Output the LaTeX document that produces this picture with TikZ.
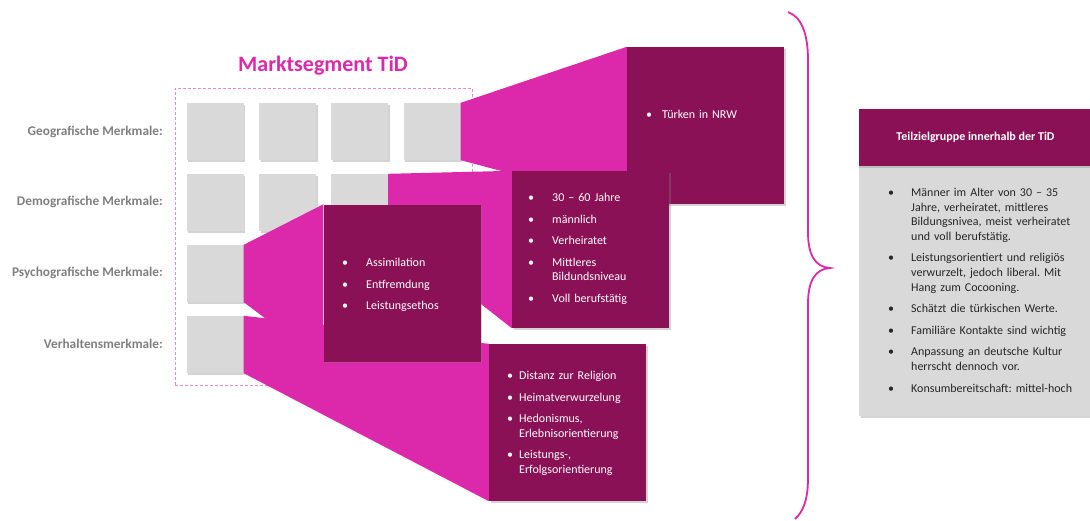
\documentclass[tikz,border=0pt]{standalone}
\usepackage{fontspec}
\setmainfont{Carlito}
\usetikzlibrary{shadows}
\frenchspacing

\definecolor{tidpink}{HTML}{DC28AA}
\definecolor{tidplum}{HTML}{8B1157}
\definecolor{cellgray}{HTML}{D9D9D9}
\definecolor{labelgray}{HTML}{7F7F7F}

% bullet list items with hanging indent
\newlength\bulind
\newcommand\bitem[1]{\hangindent=\bulind\hangafter=1\noindent\makebox[\bulind][l]{\strut\textbullet}#1\par}

\pgfdeclarelayer{cells}
\pgfdeclarelayer{funnels}
\pgfsetlayers{cells,funnels,main}

\begin{document}
\begin{tikzpicture}[x=1pt,y=-1pt,
  cell/.style={fill=cellgray,minimum size=57pt,inner sep=0pt,
    drop shadow={shadow xshift=1.5pt,shadow yshift=-1.5pt,opacity=.35}},
  panel/.style={fill=tidplum,minimum width=157pt,minimum height=157pt,inner sep=0pt,
    drop shadow={shadow xshift=1.5pt,shadow yshift=-1.5pt,opacity=.35}},
  funnel/.style={fill=tidpink},
  rowlabel/.style={anchor=east,inner sep=0pt,text=labelgray,font=\fontsize{13.3}{15}\selectfont\bfseries},
  list/.style={anchor=north west,inner sep=0pt,align=left,text=white,
    font=\fontsize{12}{14.6}\selectfont},
  frame/.style={draw=tidpink!55,densely dashed,line width=.6pt,minimum width=297pt,minimum height=297pt}]
  \useasboundingbox (0,0) rectangle (1090,520);

  \node[font=\fontsize{22}{26}\selectfont\bfseries,text=tidpink] at (323,66) (title) {Marktsegment TiD};

  \node[rowlabel] at (163,132) (lgeo) {Geografische Merkmale:};
  \node[rowlabel] at (163,202) (ldemo) {Demografische Merkmale:};
  \node[rowlabel] at (163,273) (lpsy) {Psychografische Merkmale:};
  \node[rowlabel] at (163,344) (lverh) {Verhaltensmerkmale:};

  \begin{pgfonlayer}{cells}
  \node[frame] at (323.5,236.5) (segment) {};

  \node[cell] at (215,131.5) (g1) {};
  \node[cell] at (287.5,131.5) (g2) {};
  \node[cell] at (359.5,131.5) (g3) {};
  \node[cell] at (432,131.5) (g4) {};

  \node[cell] at (215,202.5) (d1) {};
  \node[cell] at (287.5,202.5) (d2) {};
  \node[cell] at (359.5,202.5) (d3) {};

  \node[cell] at (215,273.5) (p1) {};
  \node[cell] at (215,344.5) (v1) {};
  \end{pgfonlayer}

  % callout panels
  \node[panel] at (705.5,125.5) (geo) {};
  \node[panel] at (590.5,249.5) (demo) {};
  \node[panel] at (567.5,422.5) (verh) {};
  \node[panel] at (402,283) (psy) {};

  \begin{pgfonlayer}{funnels}
  \fill[funnel] (g4.north east) -- (geo.north west) -- (geo.south west) -- (g4.south east) -- cycle;
  \fill[funnel] (d3.north east) -- (demo.north west) -- (demo.south west) -- (d3.south east) -- cycle;
  \fill[funnel] (v1.north east) -- (verh.north west) -- (verh.south west) -- (v1.south east) -- cycle;
  \fill[funnel] (p1.north east) -- (psy.north west) -- (psy.south west) -- (p1.south east) -- cycle;
  \end{pgfonlayer}

  \node[list,text width=140pt] at (646,108) (geotxt) {\setlength\bulind{16pt}%
    \bitem{Türken in NRW}};
  \node[list,text width=140pt] at (528,191) (demotxt) {\setlength\bulind{24pt}\setlength\parskip{7pt}%
    \bitem{30 – 60 Jahre}
    \bitem{männlich}
    \bitem{Verheiratet}
    \bitem{Mittleres\newline Bildundsniveau}
    \bitem{Voll berufstätig}};
  \node[list,text width=140pt] at (342,256) (psytxt) {\setlength\bulind{24pt}\setlength\parskip{7pt}%
    \bitem{Assimilation}
    \bitem{Entfremdung}
    \bitem{Leistungsethos}};
  \node[list,text width=140pt] at (507,369) (verhtxt) {\setlength\bulind{12pt}\setlength\parskip{7pt}%
    \bitem{Distanz zur Religion}
    \bitem{Heimatverwurzelung}
    \bitem{Hedonismus,\newline Erlebnisorientierung}
    \bitem{Leistungs-,\newline Erfolgsorientierung}};

  % brace
  \draw[tidpink,line width=1.8pt]
    (788,12) .. controls (802,17) and (808,35) .. (808,60) -- (808,232)
    .. controls (808,255) and (815,267) .. (830,268)
    .. controls (815,269) and (808,281) .. (808,304) -- (808,478)
    .. controls (808,500) and (803,512) .. (795,519);

  % target group
  \node[fill=cellgray,minimum width=233pt,minimum height=250pt,inner sep=0pt,
    drop shadow={shadow xshift=1.5pt,shadow yshift=-1.5pt,opacity=.35}] at (975.5,291) (body) {};
  \node[fill=tidplum,minimum width=233pt,minimum height=57pt,inner sep=0pt,text=white,
    font=\fontsize{12}{14}\selectfont\bfseries,
    drop shadow={shadow xshift=0pt,shadow yshift=-2pt,opacity=.3}] at (975.5,137.5) (head) {Teilzielgruppe innerhalb der TiD};
  \node[list,text=black!85,text width=200pt] at (888,186) (bodytxt) {\setlength\bulind{23pt}\setlength\parskip{7pt}%
    \bitem{Männer im Alter von 30 – 35\newline Jahre, verheiratet, mittleres\newline Bildungsnivea, meist verheiratet\newline und voll berufstätig.}
    \bitem{Leistungsorientiert und religiös\newline verwurzelt, jedoch liberal. Mit\newline Hang zum Cocooning.}
    \bitem{Schätzt die türkischen Werte.}
    \bitem{Familiäre Kontakte sind wichtig}
    \bitem{Anpassung an deutsche Kultur\newline herrscht dennoch vor.}
    \bitem{Konsumbereitschaft: mittel-hoch}};
\end{tikzpicture}
\end{document}
